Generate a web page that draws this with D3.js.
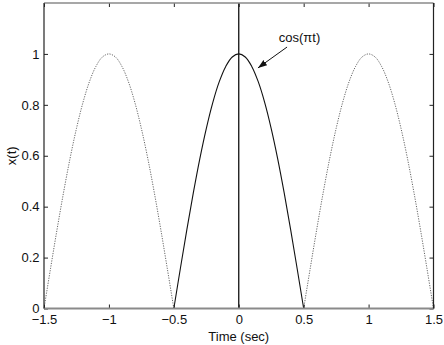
<!DOCTYPE html>
<html>
<head>
<meta charset="utf-8">
<script src="https://cdn.jsdelivr.net/npm/d3@7"></script>
<style>
  html, body { margin: 0; padding: 0; background: #fff; }
  svg { display: block; font-family: "Liberation Sans", Arial, Helvetica, sans-serif; }
</style>
</head>
<body>
<svg id="chart" width="444" height="345"></svg>
<script>
// Sample times (sec)
const tValues = [
  -1.5, -1.45, -1.4, -1.35, -1.3, -1.25, -1.2, -1.15, -1.1, -1.05,
  -1.0, -0.95, -0.9, -0.85, -0.8, -0.75, -0.7, -0.65, -0.6, -0.55,
  -0.5, -0.45, -0.4, -0.35, -0.3, -0.25, -0.2, -0.15, -0.1, -0.05,
  0.0, 0.05, 0.1, 0.15, 0.2, 0.25, 0.3, 0.35, 0.4, 0.45,
  0.5, 0.55, 0.6, 0.65, 0.7, 0.75, 0.8, 0.85, 0.9, 0.95,
  1.0, 1.05, 1.1, 1.15, 1.2, 1.25, 1.3, 1.35, 1.4, 1.45, 1.5
];
// Signal amplitude x(t) at each sample
const xValues = [
  0, 0.156, 0.309, 0.454, 0.588, 0.707, 0.809, 0.891, 0.951, 0.988,
  1, 0.988, 0.951, 0.891, 0.809, 0.707, 0.588, 0.454, 0.309, 0.156,
  0, 0.156, 0.309, 0.454, 0.588, 0.707, 0.809, 0.891, 0.951, 0.988,
  1, 0.988, 0.951, 0.891, 0.809, 0.707, 0.588, 0.454, 0.309, 0.156,
  0, 0.156, 0.309, 0.454, 0.588, 0.707, 0.809, 0.891, 0.951, 0.988,
  1, 0.988, 0.951, 0.891, 0.809, 0.707, 0.588, 0.454, 0.309, 0.156, 0
];
// Time ranges of the highlighted pulse and the periodic copies
const pulseRange = [-0.5, 0.5];
const copyRanges = [[-1.5, -0.5], [0.5, 1.5]];
// Axis ticks
const xTicks = [-1.5, -1, -0.5, 0, 0.5, 1, 1.5];
const yTicks = [0, 0.2, 0.4, 0.6, 0.8, 1];
const xDomain = [-1.5, 1.5];
const yDomain = [0, 1.2];
// Annotation (data coordinates)
const noteText = "cos(\u03C0t)";
const noteAnchor = { t: 0.468, x: 1.045 };
const arrowFrom = { t: 0.372, x: 1.027 };
const arrowTo = { t: 0.148, x: 0.945 };

const margin = { left: 44, right: 10.5, top: 3, bottom: 36.5 };
const W = 444, H = 345;
const svg = d3.select("#chart");

const x = d3.scaleLinear().domain(xDomain).range([margin.left, W - margin.right]);
const y = d3.scaleLinear().domain(yDomain).range([H - margin.bottom, margin.top]);

const points = tValues.map((t, i) => ({ t, v: xValues[i] }));
const inRange = r => points.filter(p => p.t >= r[0] - 1e-9 && p.t <= r[1] + 1e-9);

const line = d3.line()
  .x(d => x(d.t))
  .y(d => y(d.v))
  .curve(d3.curveCatmullRom.alpha(0.5));

const fmt = d3.format("~g");

// Periodic copies, dotted
copyRanges.forEach(r => {
  svg.append("path")
    .datum(inRange(r))
    .attr("d", line)
    .attr("fill", "none")
    .attr("stroke", "#555")
    .attr("stroke-width", 0.9)
    .attr("stroke-dasharray", "1.2,1.3");
});

// Main pulse, solid
svg.append("path")
  .datum(inRange(pulseRange))
  .attr("d", line)
  .attr("fill", "none")
  .attr("stroke", "#111")
  .attr("stroke-width", 1.1);

// Vertical line at t = 0
svg.append("line")
  .attr("x1", x(0)).attr("x2", x(0))
  .attr("y1", y(yDomain[1])).attr("y2", y(0))
  .attr("stroke", "#111")
  .attr("stroke-width", 1.3);

// Axes with inward ticks on all four sides
const axStyle = g => {
  g.select(".domain").remove();
  g.selectAll(".tick line").attr("stroke", "#222").attr("stroke-width", 1);
  g.selectAll(".tick text").attr("fill", "#111").attr("font-size", 13)
    .attr("font-family", "'Liberation Sans', Arial, sans-serif");
};

svg.append("g")
  .attr("transform", `translate(0,${y(0)})`)
  .call(d3.axisBottom(x).tickValues(xTicks).tickFormat(fmt).tickSizeInner(-4).tickSizeOuter(0).tickPadding(6.5))
  .call(axStyle);

svg.append("g")
  .attr("transform", `translate(0,${y(yDomain[1])})`)
  .call(d3.axisTop(x).tickValues(xTicks).tickFormat("").tickSizeInner(-4).tickSizeOuter(0))
  .call(axStyle);

svg.append("g")
  .attr("transform", `translate(${x(xDomain[0])},0)`)
  .call(d3.axisLeft(y).tickValues(yTicks).tickFormat(fmt).tickSizeInner(-4).tickSizeOuter(0).tickPadding(4.5))
  .call(axStyle);

svg.append("g")
  .attr("transform", `translate(${x(xDomain[1])},0)`)
  .call(d3.axisRight(y).tickValues(yTicks).tickFormat("").tickSizeInner(-4).tickSizeOuter(0))
  .call(axStyle);

// Frame
svg.append("line")
  .attr("x1", x(xDomain[0])).attr("x2", x(xDomain[1]))
  .attr("y1", y(yDomain[1])).attr("y2", y(yDomain[1]))
  .attr("stroke", "#8a8a8a").attr("stroke-width", 1.5);
svg.append("line")
  .attr("x1", x(xDomain[0])).attr("x2", x(xDomain[1]))
  .attr("y1", y(0)).attr("y2", y(0))
  .attr("stroke", "#8a8a8a").attr("stroke-width", 2);
svg.append("line")
  .attr("x1", x(xDomain[0])).attr("x2", x(xDomain[0]))
  .attr("y1", y(yDomain[1])).attr("y2", y(0))
  .attr("stroke", "#222").attr("stroke-width", 1.2);
svg.append("line")
  .attr("x1", x(xDomain[1])).attr("x2", x(xDomain[1]))
  .attr("y1", y(yDomain[1])).attr("y2", y(0))
  .attr("stroke", "#222").attr("stroke-width", 1.2);

// Axis titles
svg.append("text")
  .attr("x", x(0)).attr("y", 341)
  .attr("text-anchor", "middle")
  .attr("font-size", 13).attr("fill", "#111")
  .text("Time (sec)");

svg.append("text")
  .attr("transform", `translate(16,${(y(0) + y(yDomain[1])) / 2}) rotate(-90)`)
  .attr("text-anchor", "middle")
  .attr("font-size", 13).attr("fill", "#111")
  .text("x(t)");

// Annotation with arrow
svg.append("defs").append("marker")
  .attr("id", "arrowhead")
  .attr("viewBox", "0 0 10 10")
  .attr("refX", 10).attr("refY", 5)
  .attr("markerWidth", 9).attr("markerHeight", 9)
  .attr("markerUnits", "userSpaceOnUse")
  .attr("orient", "auto")
  .append("path")
  .attr("d", "M0,1.5 L10,5 L0,8.5 Z")
  .attr("fill", "#111");

svg.append("line")
  .attr("x1", x(arrowFrom.t)).attr("y1", y(arrowFrom.x))
  .attr("x2", x(arrowTo.t)).attr("y2", y(arrowTo.x))
  .attr("stroke", "#111").attr("stroke-width", 1)
  .attr("marker-end", "url(#arrowhead)");

svg.append("text")
  .attr("x", x(noteAnchor.t)).attr("y", y(noteAnchor.x))
  .attr("text-anchor", "middle")
  .attr("font-size", 13).attr("fill", "#111")
  .text(noteText);
</script>
</body>
</html>
